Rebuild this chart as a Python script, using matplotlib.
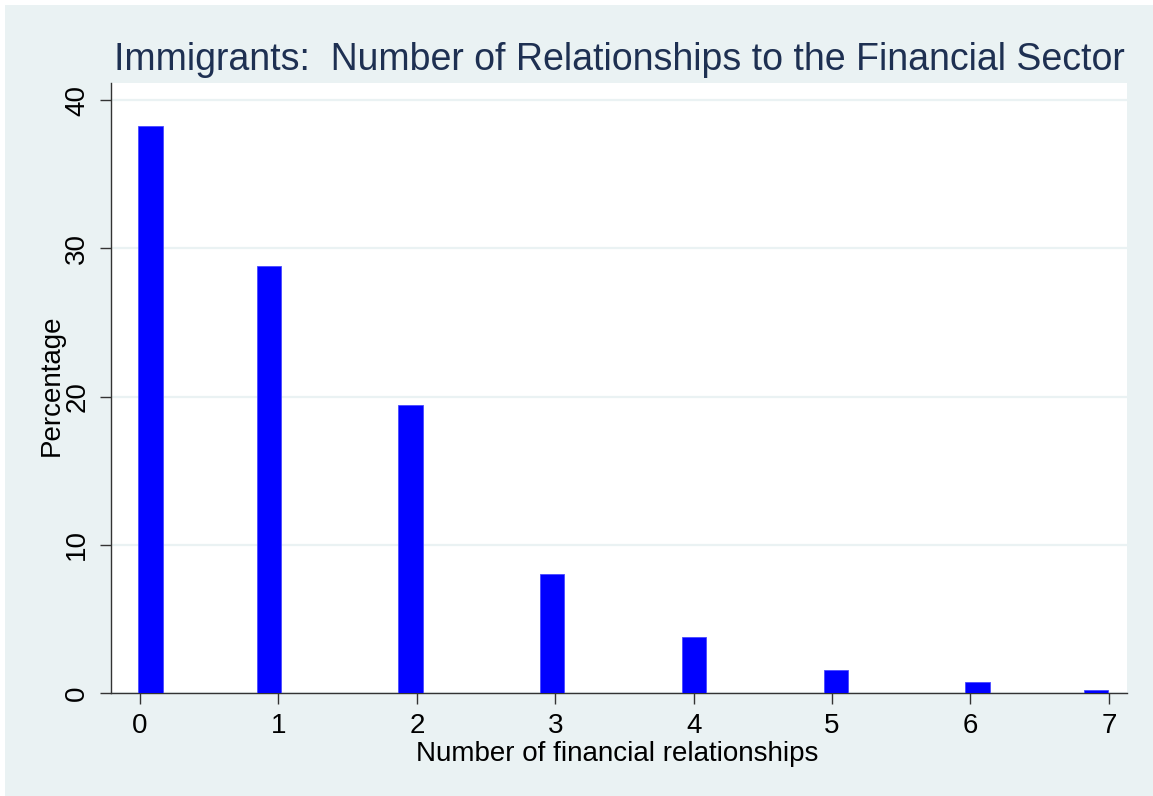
import matplotlib
matplotlib.use("Agg")
import matplotlib.pyplot as plt
from matplotlib.patches import Rectangle

# ---- data ----
categories = [0, 1, 2, 3, 4, 5, 6, 7]
bar_mid = [0.076, 0.932, 1.954, 2.978, 4.002, 5.027, 6.052, 6.909]   # bin midpoints
percentage = [38.23, 28.81, 19.44, 8.02, 3.78, 1.55, 0.75, 0.24]
y_ticks = [0, 10, 20, 30, 40]
title = "Immigrants:  Number of Relationships to the Financial Sector"
xlabel = "Number of financial relationships"
ylabel = "Percentage"

BG = "#EAF2F3"
FONT = ["Liberation Sans", "DejaVu Sans"]
plt.rcParams["font.family"] = FONT

W, H = 1153, 796
fig = plt.figure(figsize=(W / 100, H / 100), dpi=100, facecolor="white")
# light graph region (thin white strip at top and left)
fig.patches.append(Rectangle((5 / W, 0), 1 - 5 / W, 1 - 5 / H,
                             transform=fig.transFigure, facecolor=BG,
                             edgecolor="none", zorder=-10))

left, right, top, bottom = 111, 1127.3, 82.7, 693.3
ax = fig.add_axes([left / W, 1 - bottom / H, (right - left) / W, (bottom - top) / H])
ax.set_zorder(5)
ax.set_facecolor("white")

ax.bar(bar_mid, percentage, width=0.176, color="#0000FF",
       edgecolor="#4a4aff", linewidth=0.6, zorder=3)

ax.set_xlim(-0.2095, 7.133)
ax.set_ylim(0, 41.17)
ax.set_xticks(categories)
ax.set_yticks(y_ticks)

ax.set_axisbelow(True)
ax.yaxis.grid(True, color=BG, linewidth=1.6)
ax.xaxis.grid(False)

for s in ["top", "right"]:
    ax.spines[s].set_visible(False)
for s in ["left", "bottom"]:
    ax.spines[s].set_color("#333333")
    ax.spines[s].set_linewidth(1.0)

ax.tick_params(axis="both", direction="out", length=8, width=1.0,
               color="#333333", labelsize=20, labelcolor="black")
ax.tick_params(axis="x", pad=6)
ax.tick_params(axis="y", pad=7)
for lab in ax.get_yticklabels():
    lab.set_rotation(90)
    lab.set_va("center")

fig.text((left + right) / 2 / W, 1 - 70 / H, title, ha="center", va="baseline",
         fontsize=27, color="#1e3052", zorder=6)
fig.text(617.5 / W, 1 - 761 / H, xlabel, ha="center", va="baseline",
         fontsize=20, color="black", zorder=6)
fig.text(52 / W, 1 - 385 / H, ylabel, ha="center", va="center", rotation=90,
         fontsize=20, color="black", zorder=6)

fig.savefig("out.png", dpi=100, facecolor=fig.get_facecolor())
